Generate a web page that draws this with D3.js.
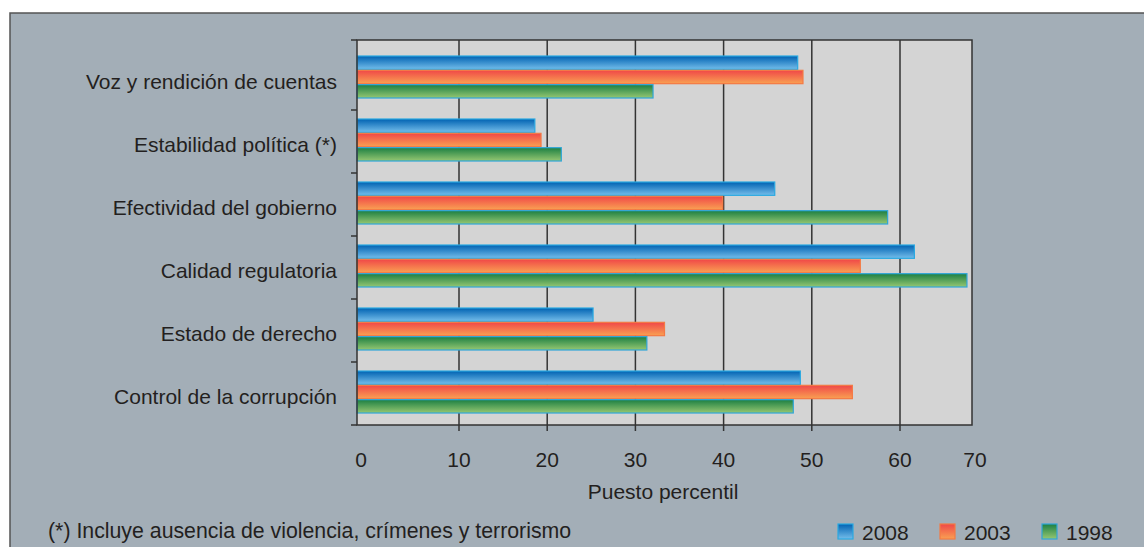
<!DOCTYPE html>
<html lang="es">
<head>
<meta charset="UTF-8">
<title>Indicadores de gobernabilidad</title>
<script src="https://d3js.org/d3.v7.min.js"></script>
<style>
    body { margin: 0; background: #fff; }
    svg { display: block; font-family: "Liberation Sans", Arial, sans-serif; }
</style>
</head>
<body>
<svg id="chart"></svg>
<script>
const categories = [
    "Voz y rendición de cuentas",
    "Estabilidad política (*)",
    "Efectividad del gobierno",
    "Calidad regulatoria",
    "Estado de derecho",
    "Control de la corrupción"
];
const years = ["2008", "2003", "1998"];
const values2008 = [48.4, 18.6, 45.8, 62.0, 25.2, 48.7];
const values2003 = [49.0, 19.3, 39.9, 55.5, 33.3, 54.6];
const values1998 = [32.0, 21.6, 58.6, 69.3, 31.3, 47.9];
const xTicks = [0, 10, 20, 30, 40, 50, 60, 70];

const series = [values2008, values2003, values1998];

const W = 1144, H = 547;
const plotL = 357, plotR = 972, plotT = 40, plotB = 425;

const svg = d3.select("#chart").attr("width", W).attr("height", H);

// gradients for each series
const grads = [
    { id: "g2008", top: "#0062b2", bot: "#74bdea", stroke: "#2aa9e2" },
    { id: "g2003", top: "#f04848", bot: "#f9a052", stroke: "#f47a44" },
    { id: "g1998", top: "#1c7f42", bot: "#95c772", stroke: "#2fa6d8" }
];
const defs = svg.append("defs");
grads.forEach(g => {
    const lg = defs.append("linearGradient").attr("id", g.id)
        .attr("x1", 0).attr("y1", 0).attr("x2", 0).attr("y2", 1);
    lg.append("stop").attr("offset", "0%").attr("stop-color", g.top);
    lg.append("stop").attr("offset", "100%").attr("stop-color", g.bot);
});

// panel
svg.append("rect").attr("x", 10).attr("y", 13).attr("width", W).attr("height", H)
    .attr("fill", "#a3aeb7").attr("stroke", "#545454").attr("stroke-width", 1.5);

// the source axis has a wider first gap and a shorter last one
const x = d3.scaleLinear()
    .domain([0, 10, 60, 70])
    .range([plotL, plotL + 102, plotR - 72, plotR]);

const y = d3.scaleBand()
    .domain(categories)
    .range([plotT + 7, plotB]);

const inner = d3.scaleBand()
    .domain(years)
    .range([0, 43]);

svg.append("rect")
    .attr("x", plotL).attr("y", plotT)
    .attr("width", plotR - plotL).attr("height", plotB - plotT)
    .attr("fill", "#d4d4d4");

// grid lines + bottom ticks
svg.append("g")
    .selectAll("line")
    .data(xTicks.slice(1, -1))
    .join("line")
    .attr("x1", d => x(d)).attr("x2", d => x(d))
    .attr("y1", plotT).attr("y2", plotB + 6)
    .attr("stroke", "#333").attr("stroke-width", 1.5);

// bars
const offset = (y.bandwidth() - 43) / 2 - 1.5;
series.forEach((vals, si) => {
    svg.append("g")
        .selectAll("rect")
        .data(vals)
        .join("rect")
        .attr("x", x(0))
        .attr("y", (d, i) => y(categories[i]) + offset + inner(years[si]) + 0.5)
        .attr("width", d => x(d) - x(0))
        .attr("height", inner.bandwidth() - 1)
        .attr("fill", `url(#${grads[si].id})`)
        .attr("stroke", grads[si].stroke)
        .attr("stroke-width", 1.2);
});

// plot frame
svg.append("rect")
    .attr("x", plotL).attr("y", plotT)
    .attr("width", plotR - plotL).attr("height", plotB - plotT)
    .attr("fill", "none").attr("stroke", "#333").attr("stroke-width", 1.5);

// left ticks between groups
const yTicks = [plotT].concat(categories.slice(1).map(c => y(c))).concat([plotB]);
svg.append("g")
    .selectAll("line")
    .data(yTicks)
    .join("line")
    .attr("x1", plotL - 6).attr("x2", plotL)
    .attr("y1", d => d).attr("y2", d => d)
    .attr("stroke", "#333").attr("stroke-width", 1.5);

// category labels
svg.append("g")
    .selectAll("text")
    .data(categories)
    .join("text")
    .attr("x", 337)
    .attr("y", d => y(d) + y.bandwidth() / 2 + 3)
    .attr("dy", "0.35em")
    .attr("text-anchor", "end")
    .attr("font-size", 21)
    .attr("fill", "#231f20")
    .text(d => d);

// x tick labels
svg.append("g")
    .selectAll("text")
    .data(xTicks)
    .join("text")
    .attr("x", d => x(d) + (d === 0 ? 4 : d === 70 ? 3 : 0))
    .attr("y", 467)
    .attr("text-anchor", "middle")
    .attr("font-size", 21)
    .attr("fill", "#231f20")
    .text(d => d);

svg.append("text")
    .attr("x", 663).attr("y", 499)
    .attr("text-anchor", "middle")
    .attr("font-size", 21)
    .attr("fill", "#231f20")
    .text("Puesto percentil");

svg.append("text")
    .attr("x", 48).attr("y", 538)
    .attr("font-size", 21.3)
    .attr("fill", "#231f20")
    .text("(*) Incluye ausencia de violencia, crímenes y terrorismo");

// legend
const legend = svg.append("g")
    .selectAll("g")
    .data(years)
    .join("g")
    .attr("transform", (d, i) => `translate(${838 + i * 102},524)`);
legend.append("rect")
    .attr("width", 15).attr("height", 15)
    .attr("fill", (d, i) => `url(#${grads[i].id})`)
    .attr("stroke", (d, i) => grads[i].stroke)
    .attr("stroke-width", 1.2);
legend.append("text")
    .attr("x", 24).attr("y", 16)
    .attr("font-size", 21)
    .attr("fill", "#231f20")
    .text(d => d);
</script>
</body>
</html>
